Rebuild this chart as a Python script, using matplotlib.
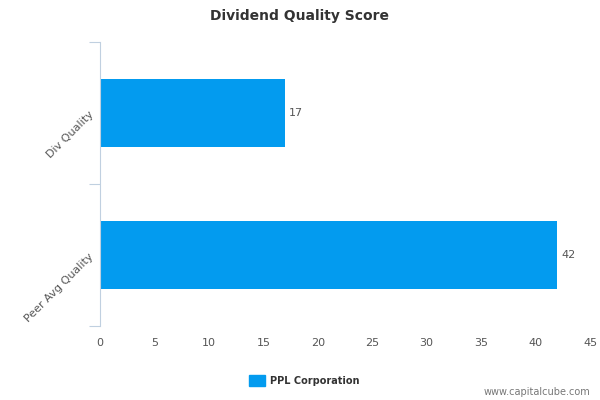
import matplotlib
matplotlib.use("Agg")
import matplotlib.pyplot as plt

categories = ["Div Quality", "Peer Avg Quality"]
values = [17, 42]
series_name = "PPL Corporation"
xticks = [0, 5, 10, 15, 20, 25, 30, 35, 40, 45]

color = "#039BEF"
fig = plt.figure(figsize=(6, 4), dpi=100)
ax = fig.add_axes([100/600, 1-326/400, 490/600, 284/400])
pos = [0.5, 1.5]
bars = ax.barh(pos, values, height=0.48, color=color)
ax.set_ylim(2, 0)
ax.set_xlim(0, 45)
ax.set_yticks([0, 1, 2], minor=False)
ax.set_yticklabels([])
ax.set_yticks(pos, minor=True)
ax.set_yticklabels(categories, minor=True, rotation=45, ha="right", va="center",
                   fontsize=8, color="#555555", rotation_mode="anchor")
ax.tick_params(axis="y", which="minor", length=0, pad=6)
ax.tick_params(axis="y", which="major", length=8, color="#C0D0E0")
ax.set_xticks(xticks)
ax.set_xticklabels([str(t) for t in xticks], fontsize=8, color="#555555")
ax.tick_params(axis="x", length=0, pad=9)
for s in ["top", "right", "bottom"]:
    ax.spines[s].set_visible(False)
ax.spines["left"].set_color("#C0D0E0")
for b, v in zip(bars, values):
    ax.text(v + 0.35, b.get_y() + b.get_height()/2, str(v), va="center",
            fontsize=8, color="#555555")
fig.text(0.5, 1-16/400, "Dividend Quality Score", ha="center", va="center",
         fontsize=10, fontweight="bold", color="#333333")
fig.patches.append(matplotlib.patches.Rectangle((249/600, 1-386/400), 16/600, 11/400,
                   transform=fig.transFigure, color=color))
fig.text(270/600, 1-381/400, series_name, va="center", fontsize=7,
         fontweight="bold", color="#333333")
fig.text(590/600, 1-392/400, "www.capitalcube.com", ha="right", va="center",
         fontsize=7, color="#777777")
fig.savefig("out.png", dpi=100)
